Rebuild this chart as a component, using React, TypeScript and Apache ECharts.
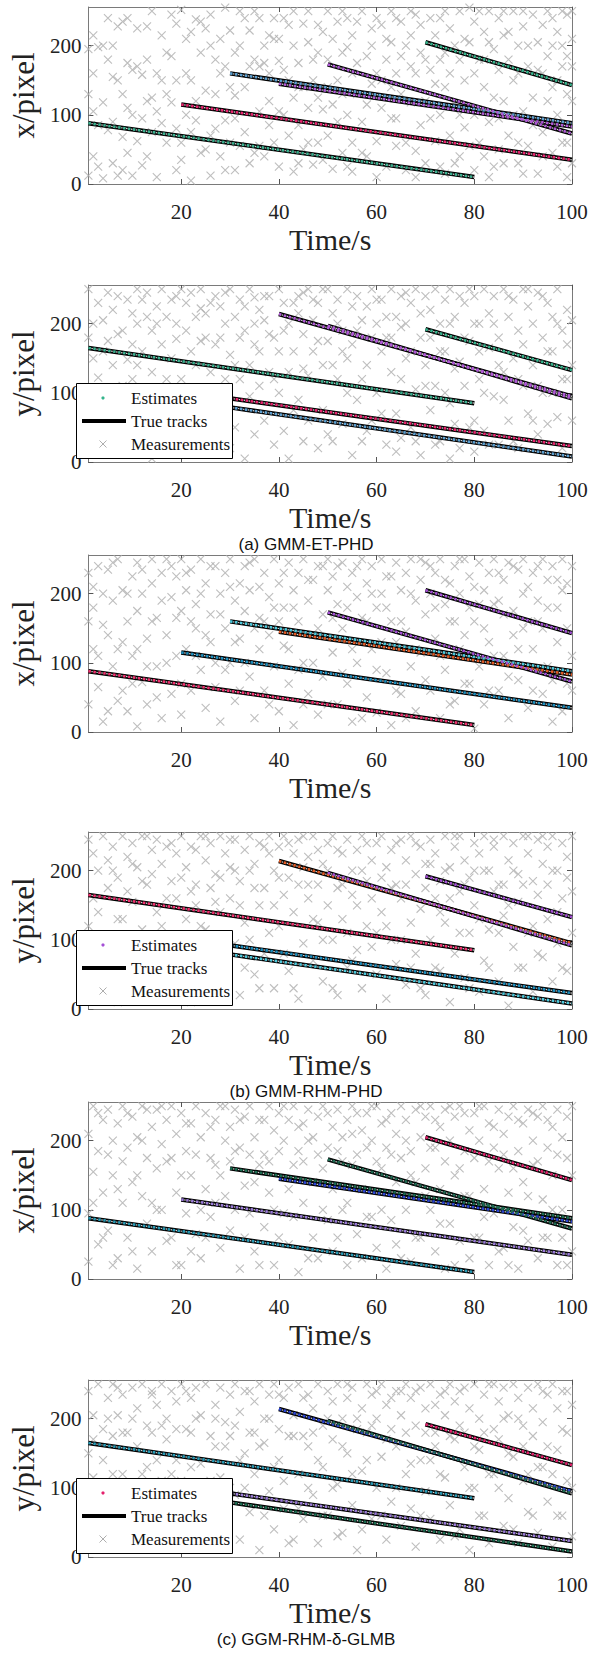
import { useEffect, useRef } from "react";
import * as echarts from "echarts";

const SERIF = '"Liberation Serif", "Times New Roman", serif';
const SANS = '"Liberation Sans", Arial, sans-serif';

const timeTicks = [20, 40, 60, 80, 100];
const pixelTicks = [0, 100, 200];

// True tracks, one row per target: [birth time, value at birth, death time, value at death]
const tracksX = [
  [1, 88, 80, 10],
  [20, 115, 100, 35],
  [30, 160, 100, 88],
  [40, 145, 100, 83],
  [50, 173, 100, 73],
  [70, 205, 100, 143],
];
const tracksY = [
  [1, 165, 80, 85],
  [20, 102, 100, 23],
  [30, 79, 100, 8],
  [40, 214, 100, 95],
  [50, 197, 100, 92],
  [70, 192, 100, 133],
];

// Estimate colours per target, one list per filter
const estColorsA = ["#3bb08f", "#e8246e", "#5b9fd0", "#b05ad6", "#b05ad6", "#35b48c"];
const estColorsB = ["#f0306e", "#1c8fbf", "#4cc9dc", "#e25a24", "#a44fd6", "#a44fd6"];
const estColorsC = ["#279ab5", "#9a7ad8", "#1a6b4f", "#2b45d4", "#1f6a52", "#e4206c"];
const legendDotColors = ["#35b48c", "#a44fd6", "#e4206c"];

const captions = ["(a) GMM-ET-PHD", "(b) GMM-RHM-PHD", "(c) GGM-RHM-δ-GLMB"];

// Clutter measurements, flattened [time, value, time, value, ...]
const clutterXa = [1,195,1,130,1,12,2,215,2,105,2,40,3,198,3,25,4,200,4,118,4,8,5,240,5,78,6,200,6,155,6,30,7,228,7,12,8,235,8,130,8,68,9,240,9,175,9,45,10,165,10,100,10,12,11,170,11,62,12,158,12,27,13,228,13,120,13,40,14,125,14,75,15,160,15,105,15,10,16,150,16,88,17,190,17,60,18,245,18,185,18,118,19,232,19,80,20,252,20,60,20,35,21,210,21,100,22,220,22,150,22,5,23,238,23,92,24,235,24,190,24,45,25,225,25,135,26,200,26,70,26,12,27,180,27,80,28,160,28,40,29,255,29,170,29,92,30,222,30,60,31,190,31,128,31,20,32,200,32,55,33,240,33,140,34,222,34,30,35,250,35,180,35,45,36,170,36,105,37,175,37,40,38,215,38,160,38,120,39,210,39,60,40,178,40,105,40,25,41,240,41,165,42,150,42,70,43,250,43,200,43,18,44,175,44,85,45,232,45,140,45,50,46,205,46,110,47,180,47,28,48,230,48,125,48,60,49,220,49,108,50,250,50,180,50,70,51,115,51,22,52,235,52,150,53,190,53,45,54,240,54,198,54,100,55,215,55,60,55,18,56,175,56,130,57,250,57,90,58,185,58,40,59,225,59,145,60,160,60,62,60,10,61,230,61,110,62,180,62,25,63,250,63,205,63,95,64,160,64,55,65,235,65,130,66,200,66,20,67,215,67,118,68,245,68,160,68,48,69,190,69,85,70,120,70,30,71,240,71,165,72,215,72,62,73,180,73,100,74,250,74,140,74,15,75,225,75,70,76,200,76,115,77,250,77,180,77,40,78,150,78,82,79,255,79,205,80,235,80,100,80,20,81,180,81,60,82,220,82,140,83,250,83,90,83,10,84,195,84,25,85,240,85,165,85,50,86,215,86,120,87,180,87,70,88,250,88,150,89,200,89,30,90,228,90,105,91,170,91,55,92,245,92,125,93,205,93,15,94,230,94,160,94,75,95,250,95,185,96,140,96,45,97,220,97,100,98,200,98,60,99,245,99,185,99,10,100,210,100,120,100,30,
  2,160,3,85,5,180,6,90,7,150,8,20,9,110,11,225,12,95,13,180,14,250,16,215,17,130,19,150,19,20,21,160,22,75,23,120,25,50,26,245,27,130,28,210,29,20,30,140,31,95,32,250,33,75,34,170,36,240,36,55,37,200,38,85,39,240,40,210,41,100,42,230,43,125,44,140,44,30,46,250,46,60,47,150,48,190,49,35,50,140,51,210,52,90,53,130,53,250,54,25,55,160,56,235,57,45,58,115,59,200,60,240,61,150,62,210,63,140,64,240,64,95,65,185,66,60,67,250,67,170,68,10,69,230,70,180,71,95,72,145,73,240,73,25,74,190,75,160,76,30,77,100,78,210,79,55,80,160,81,250,82,180,82,40,83,205,84,125,85,95,86,250,86,30,87,220,88,100,89,160,89,60,90,250,90,15,91,200,92,85,93,165,94,40,95,120,96,240,96,200,97,150,97,25,98,250,98,170,99,130,99,60,100,170,100,250];
const clutterYa = [1,250,1,180,1,100,2,150,2,60,3,230,3,122,4,205,4,30,5,245,5,175,5,70,6,220,6,140,7,240,7,95,8,190,8,20,9,235,9,148,10,215,10,120,11,250,11,200,11,55,12,160,12,85,13,245,13,210,14,190,14,130,14,5,15,225,15,105,16,250,16,170,17,210,17,48,18,235,18,150,19,200,19,178,20,250,20,120,21,230,21,190,22,245,22,60,23,210,23,140,24,250,24,222,25,180,25,40,26,230,26,130,27,240,27,170,28,225,28,20,29,200,29,120,30,250,30,155,31,210,31,50,32,235,32,180,33,190,33,5,34,250,34,140,35,238,35,200,35,40,36,220,36,160,37,205,37,60,38,240,38,130,39,180,39,25,40,250,40,100,41,230,41,45,42,200,42,5,43,160,43,75,44,240,44,215,45,185,45,135,45,30,46,250,46,60,47,205,47,160,48,230,48,20,49,140,49,75,50,250,50,175,51,215,51,30,52,235,52,120,53,190,53,55,54,250,54,150,55,170,55,10,56,240,56,90,57,205,57,30,58,225,58,140,59,250,59,60,60,200,60,100,61,235,61,160,62,180,62,25,63,250,63,130,64,210,64,70,65,240,65,120,65,35,66,200,66,150,67,230,67,50,68,250,68,105,69,180,69,10,70,240,70,140,71,220,71,75,72,250,72,110,73,200,73,30,74,235,74,160,75,250,75,85,75,5,76,210,76,55,77,240,77,145,78,230,78,110,79,250,79,175,80,15,80,60,80,240,81,200,81,120,82,250,82,45,83,215,83,165,84,240,84,95,85,180,85,25,86,250,86,130,87,210,87,60,88,235,88,150,89,190,89,20,90,250,90,110,91,225,91,70,92,200,92,140,93,245,93,40,94,180,94,100,95,230,95,55,96,210,96,160,97,250,97,65,98,190,98,20,99,220,99,120,100,205,100,60,
  2,200,3,90,4,160,6,45,7,185,8,110,9,80,10,170,11,140,12,235,13,40,15,200,16,75,17,120,18,20,19,240,20,75,21,45,22,160,23,100,24,175,25,215,26,60,27,105,28,180,29,245,30,20,31,140,32,120,33,225,34,95,35,170,36,110,37,240,38,185,39,120,40,160,41,190,42,130,43,230,44,90,45,245,46,125,47,235,48,175,49,250,50,40,51,140,52,200,53,160,54,100,55,225,56,190,57,120,58,45,59,180,60,235,61,70,62,210,63,180,64,15,65,195,66,245,67,160,68,30,69,215,70,110,71,180,72,25,73,160,74,100,75,200,76,135,77,20,78,180,79,50,80,200,81,160,82,100,83,25,84,200,85,140,86,90,87,240,88,30,89,120,90,170,91,250,92,60,93,110,94,240,95,160,96,100,97,200,98,120,99,170,100,140];
const clutterXb = [1,230,1,160,1,40,2,210,2,120,3,240,3,65,4,155,4,15,5,235,5,140,6,190,6,95,7,250,7,45,8,205,8,130,9,160,9,30,10,225,10,110,11,245,11,175,11,8,12,200,12,72,13,135,13,40,14,250,14,215,15,165,15,95,16,230,16,20,17,250,17,140,18,195,18,55,19,225,19,110,20,250,20,175,20,25,21,205,21,120,22,235,22,60,23,185,23,150,24,250,24,90,25,215,25,35,26,170,26,130,27,240,27,65,28,200,28,15,29,230,29,150,30,250,30,100,31,190,31,45,32,215,32,135,33,240,33,175,34,205,34,80,35,250,35,20,36,165,36,120,37,230,37,60,38,195,38,140,39,250,39,95,40,215,40,30,41,180,41,125,42,245,42,70,43,205,43,10,44,230,44,160,45,250,45,100,46,190,46,55,47,220,47,140,48,240,48,25,49,170,49,80,50,250,50,205,51,225,51,115,52,185,52,40,53,245,53,150,54,210,54,70,55,230,55,15,56,195,56,100,57,250,57,165,58,215,58,50,59,240,59,120,60,180,60,28,61,250,61,200,62,225,62,85,63,160,63,10,64,245,64,130,65,205,65,55,66,230,66,145,67,250,67,95,68,190,68,30,69,220,69,115,70,245,70,170,71,200,71,60,72,230,72,135,73,250,73,20,74,185,74,90,75,215,75,160,76,240,76,45,77,200,77,120,78,250,78,70,79,225,79,180,80,160,80,5,81,245,81,95,82,205,82,40,83,230,83,130,84,250,84,185,85,190,85,60,86,220,86,110,87,245,87,20,88,175,88,140,89,235,89,75,90,250,90,200,91,210,91,35,92,230,92,120,93,190,93,160,94,250,94,55,95,220,95,95,96,240,96,15,97,180,97,130,98,250,98,205,99,215,99,70,100,240,100,110,
  2,180,3,110,4,200,5,30,6,245,7,120,8,60,9,200,10,70,11,120,12,235,13,95,14,160,15,50,16,190,17,100,18,240,19,165,20,70,21,230,22,160,23,110,24,200,25,140,26,240,27,100,28,170,29,90,30,210,31,130,32,60,33,100,34,245,35,150,36,210,37,160,38,40,39,180,40,160,41,230,42,120,43,180,44,90,45,40,46,220,47,100,48,150,49,240,50,40,51,165,52,240,53,85,54,180,55,120,56,240,57,20,58,160,59,200,60,90,61,130,62,180,63,225,64,60,65,160,66,20,67,200,68,120,69,250,70,75,71,240,72,180,73,110,74,220,75,40,76,160,77,250,78,140,79,70,80,210,81,185,82,150,83,60,84,110,85,230,86,170,87,80,88,240,89,120,90,150,91,160,92,60,93,240,94,150,95,180,96,75,97,220,98,30,99,150,100,60];
const clutterYb = [1,245,1,120,1,20,2,225,2,80,3,200,3,140,4,250,4,45,5,215,5,175,6,235,6,100,7,190,7,10,8,250,8,130,9,220,9,60,10,240,10,155,11,205,11,35,12,250,12,115,13,180,13,75,14,230,14,195,15,245,15,140,16,210,16,25,17,160,17,90,18,240,18,185,19,225,19,50,20,250,20,190,21,205,21,130,22,235,22,10,23,180,23,150,24,250,24,70,25,215,25,115,26,240,26,175,27,195,27,35,28,250,28,140,29,225,29,60,30,205,30,160,31,245,31,95,32,185,32,20,33,230,33,125,34,250,34,200,35,210,35,50,36,240,36,150,37,175,37,80,38,250,38,225,39,200,39,30,40,235,40,120,41,250,41,165,42,190,42,55,43,225,43,140,44,245,44,15,45,205,45,95,46,180,46,160,47,250,47,70,48,230,48,125,49,210,49,40,50,240,50,150,51,250,51,100,52,175,52,20,53,225,53,130,54,245,54,60,55,200,55,165,56,230,56,85,57,250,57,30,58,185,58,120,59,215,59,160,60,240,60,50,61,250,61,140,62,205,62,15,63,230,63,100,64,180,64,65,65,245,65,160,66,215,66,35,67,250,67,125,68,195,68,80,69,235,69,145,70,210,70,20,71,245,71,100,72,225,72,160,73,185,73,55,74,250,74,125,75,205,75,10,76,235,76,80,77,250,77,170,78,215,78,45,79,190,79,110,80,240,80,150,81,225,81,25,82,250,82,70,83,200,83,115,84,235,84,170,85,180,85,40,86,250,86,135,87,215,87,5,88,240,88,90,89,195,89,155,90,250,90,60,91,225,91,110,92,185,92,25,93,245,93,165,94,210,94,75,95,235,95,130,96,250,96,40,97,200,97,95,98,240,98,160,99,220,99,55,100,250,100,110,
  2,160,3,60,4,100,5,30,6,200,7,130,8,80,9,170,10,210,11,100,12,185,13,250,14,60,15,20,16,120,17,235,18,80,19,160,20,40,21,90,22,170,23,230,24,120,25,250,26,80,27,155,28,190,29,100,30,245,31,200,32,150,33,60,34,100,35,175,36,30,37,235,38,110,39,150,40,190,41,80,42,240,43,30,44,180,45,250,46,220,47,130,48,180,49,100,50,200,51,30,52,230,53,180,54,110,55,70,56,150,57,200,58,240,59,90,60,110,61,190,62,120,63,175,64,240,65,100,66,180,67,60,68,240,69,30,70,175,71,210,72,60,73,140,74,200,75,160,76,250,77,110,78,180,79,30,80,200,81,130,82,200,83,60,84,245,85,110,86,180,87,150,88,200,89,60,90,180,91,250,92,120,93,80,94,250,95,180,96,200,97,140,98,60,99,190,100,170];
const clutterXc = [1,210,1,95,1,25,2,250,2,155,3,185,3,50,4,230,4,125,5,245,5,70,6,200,6,150,7,225,7,30,8,250,8,110,9,190,9,60,10,235,10,140,11,205,11,15,12,250,12,120,13,175,13,80,14,220,14,40,15,245,15,160,16,195,16,100,17,230,17,55,18,250,18,175,19,210,19,125,20,240,20,20,21,185,21,95,22,225,22,150,23,250,23,65,24,205,24,30,25,240,25,130,26,175,26,90,27,230,27,165,28,250,28,45,29,200,29,120,30,220,30,70,31,245,31,185,32,190,32,15,33,235,33,135,34,250,34,95,35,205,35,40,36,230,36,165,37,180,37,75,38,250,38,125,39,215,39,20,40,240,40,185,41,200,41,95,42,230,42,50,43,250,43,165,44,185,44,10,45,225,45,110,46,245,46,200,47,205,47,60,48,235,48,30,49,250,49,160,50,190,50,85,51,220,51,40,52,245,52,185,53,205,53,100,54,230,54,20,55,250,55,165,56,180,56,65,57,215,57,30,58,240,58,190,59,200,59,90,60,250,60,45,61,225,61,160,62,190,62,15,63,240,63,85,64,210,64,50,65,250,65,175,66,230,66,100,67,185,67,25,68,245,68,140,69,205,69,60,70,235,70,160,71,250,71,100,72,190,72,40,73,220,73,130,74,245,74,15,75,200,75,80,76,235,76,150,77,250,77,55,78,185,78,120,79,215,79,30,80,240,80,175,81,200,81,60,82,250,82,130,83,225,83,20,84,190,84,95,85,245,85,160,86,210,86,45,87,235,87,125,88,250,88,75,89,185,89,15,90,225,90,140,91,245,91,55,92,200,92,165,93,235,93,30,94,250,94,115,95,190,95,60,96,220,96,150,97,245,97,20,98,205,98,100,99,235,99,175,100,250,100,40,
  2,110,3,240,4,60,5,180,6,20,7,130,8,170,9,240,10,40,11,150,12,200,13,245,14,110,15,100,16,250,17,170,18,60,19,20,20,150,21,225,22,40,23,180,24,100,25,60,26,220,27,110,28,150,29,250,30,170,31,100,32,230,33,60,34,180,35,140,36,20,37,230,38,170,39,100,40,60,41,250,42,130,43,90,44,220,45,170,46,30,47,140,48,180,49,100,50,240,51,130,52,60,53,170,54,110,55,210,56,240,57,130,58,90,59,250,60,170,61,100,62,230,63,180,64,140,65,30,66,200,67,150,68,60,69,250,70,120,71,190,72,230,73,80,74,170,75,250,76,20,77,160,78,240,79,120,80,60,81,250,82,90,83,170,84,220,85,40,86,180,87,20,88,160,89,230,90,70,91,120,92,240,93,170,94,60,95,230,96,100,97,180,98,60,99,20,100,150];
const clutterYc = [1,240,1,150,1,60,2,205,2,115,3,250,3,30,4,185,4,140,5,230,5,80,6,250,6,175,7,205,7,45,8,235,8,120,9,180,9,15,10,245,10,95,11,215,11,160,12,250,12,55,13,190,13,130,14,240,14,235,15,220,15,30,16,250,16,110,17,200,17,170,18,240,18,65,19,225,19,140,20,250,20,15,21,185,21,95,22,230,22,180,23,245,23,50,24,205,24,135,25,250,25,80,26,175,26,20,27,220,27,160,28,245,28,115,29,195,29,45,30,235,30,175,31,250,31,90,32,210,32,25,33,240,33,150,34,180,34,65,35,225,35,120,36,250,36,10,37,200,37,165,38,235,38,95,39,250,39,40,40,185,40,140,41,230,41,70,42,245,42,175,43,205,43,25,44,250,44,120,45,175,45,55,46,235,46,160,47,215,47,90,48,250,48,20,49,190,49,130,50,240,50,60,51,225,51,170,52,250,52,105,53,200,53,35,54,230,54,150,55,245,55,75,56,185,56,10,57,215,57,125,58,250,58,180,59,235,59,55,60,200,60,100,61,250,61,145,62,220,62,25,63,185,63,80,64,240,64,160,65,205,65,45,66,250,66,120,67,230,67,70,68,190,68,15,69,245,69,140,70,215,70,95,71,250,71,55,72,180,72,160,73,235,73,25,74,205,74,115,75,250,75,75,76,225,76,170,77,190,77,40,78,245,78,130,79,215,79,10,80,250,80,100,81,200,81,155,82,235,82,60,83,250,83,20,84,185,84,120,85,225,85,170,86,245,86,45,87,205,87,85,88,250,88,145,89,230,89,20,90,190,90,110,91,245,91,65,92,215,92,175,93,250,93,35,94,195,94,130,95,235,95,80,96,250,96,15,97,215,97,155,98,185,98,60,99,240,99,110,100,220,100,30,
  2,170,3,100,4,60,5,200,6,120,7,245,8,180,9,90,10,200,11,30,12,120,13,70,14,180,15,140,16,190,17,90,18,120,19,185,20,110,21,240,22,130,23,200,24,90,25,30,26,110,27,200,28,60,29,160,30,100,31,190,32,140,33,100,34,240,35,180,36,160,37,60,38,200,39,130,40,235,41,110,42,20,43,175,44,70,45,230,46,100,47,180,48,140,49,60,50,200,51,100,52,30,53,160,54,250,55,120,56,200,57,40,58,140,59,190,60,240,61,60,62,170,63,230,64,100,65,240,66,180,67,135,68,240,69,60,70,180,71,140,72,220,73,120,74,240,75,175,76,30,77,240,78,180,79,100,80,160,81,60,82,180,83,120,84,250,85,100,86,200,87,150,88,40,89,200,90,160,91,120,92,60,93,130,94,240,95,160,96,120,97,60,98,240,99,180,100,100];

const panels = [
  { axis: "x", tracks: tracksX, clutter: clutterXa, colors: estColorsA, group: 0 },
  { axis: "y", tracks: tracksY, clutter: clutterYa, colors: estColorsA, group: 0 },
  { axis: "x", tracks: tracksX, clutter: clutterXb, colors: estColorsB, group: 1 },
  { axis: "y", tracks: tracksY, clutter: clutterYb, colors: estColorsB, group: 1 },
  { axis: "x", tracks: tracksX, clutter: clutterXc, colors: estColorsC, group: 2 },
  { axis: "y", tracks: tracksY, clutter: clutterYc, colors: estColorsC, group: 2 },
];

const PANEL_TOPS = [7, 285, 555, 832, 1102, 1380];
const PLOT_LEFT = 76;
const PLOT_W = 496;
const PLOT_H = 177;
const CROSS = "path://M0,0L10,10M10,0L0,10";
const CLUTTER_GREY = "#aeaeae";

function pairs(flat: number[]) {
  const out: number[][] = [];
  for (let i = 0; i < flat.length; i += 2) out.push([flat[i], flat[i + 1]]);
  return out;
}

function buildOption() {
  const grid: any[] = [];
  const xAxis: any[] = [];
  const yAxis: any[] = [];
  const series: any[] = [];
  const graphic: any[] = [];
  const frame = { show: true, onZero: false, lineStyle: { color: "#7a7a7a", width: 1 } };
  const tick = (vals: number[]) => ({
    inside: true,
    length: 5,
    customValues: vals,
    lineStyle: { color: "#555", width: 1 },
  });
  const tickText = { fontFamily: SERIF, fontSize: 21, color: "#222" };

  panels.forEach((p, i) => {
    const top = PANEL_TOPS[i];
    grid.push({ left: PLOT_LEFT, top, width: PLOT_W, height: PLOT_H, containLabel: false });
    // Time axis: nice ticks at multiples of 20; the label at the axis minimum is hidden
    xAxis.push({
      type: "value", gridIndex: i, min: 1, max: 100, splitNumber: 5, position: "bottom",
      name: "Time/s", nameLocation: "middle", nameGap: 40,
      nameTextStyle: { fontFamily: SERIF, fontSize: 30, color: "#222" },
      axisLine: frame, axisTick: tick(timeTicks),
      axisLabel: { showMinLabel: false, showMaxLabel: true, margin: 17, ...tickText },
      splitLine: { show: false },
    });
    xAxis.push({
      type: "value", gridIndex: i, min: 1, max: 100, position: "top",
      axisLine: frame, axisTick: tick(timeTicks), axisLabel: { show: false }, splitLine: { show: false },
    });
    // Pixel axis: nice ticks at multiples of 100; the label at the image height is hidden
    yAxis.push({
      type: "value", gridIndex: i, min: 0, max: 256, splitNumber: 3, position: "left",
      name: p.axis + "/pixel", nameLocation: "middle", nameGap: 49,
      nameTextStyle: { fontFamily: SERIF, fontSize: 31, color: "#222" },
      axisLine: frame, axisTick: tick(pixelTicks),
      axisLabel: { showMinLabel: true, showMaxLabel: false, margin: 7, ...tickText },
      splitLine: { show: false },
    });
    yAxis.push({
      type: "value", gridIndex: i, min: 0, max: 256, position: "right",
      axisLine: frame, axisTick: tick(pixelTicks), axisLabel: { show: false }, splitLine: { show: false },
    });
    const xi = 2 * i;
    const yi = 2 * i;

    series.push({
      type: "scatter", name: "Measurements", xAxisIndex: xi, yAxisIndex: yi,
      data: pairs(p.clutter), symbol: CROSS, symbolSize: 8, z: 1,
      itemStyle: { color: "rgba(0,0,0,0)", borderColor: CLUTTER_GREY, borderWidth: 1.1 },
      silent: true,
    });
    p.tracks.forEach((t, k) => {
      const line = [[t[0], t[1]], [t[2], t[3]]];
      series.push({
        type: "line", name: "True tracks", xAxisIndex: xi, yAxisIndex: yi, data: line,
        showSymbol: false, z: 2, silent: true,
        lineStyle: { color: "#000", width: 4.5 },
      });
      series.push({
        type: "line", name: "Measurements", xAxisIndex: xi, yAxisIndex: yi, data: line,
        showSymbol: false, z: 3, silent: true,
        lineStyle: { color: "#d4d4d4", width: 1.2, type: [1.5, 3.5], dashOffset: 2 },
      });
      series.push({
        type: "line", name: "Estimates", xAxisIndex: xi, yAxisIndex: yi, data: line,
        showSymbol: false, z: 4, silent: true,
        lineStyle: { color: p.colors[k], width: 2.6, type: [2.5, 2.5] },
      });
    });

    if (p.axis === "y") {
      const bottom = top + PLOT_H;
      const bx = PLOT_LEFT;
      const by = bottom - 79;
      const rowY = [by + 15, by + 38, by + 61];
      graphic.push({
        type: "rect", z: 100,
        shape: { x: bx + 0.5, y: by + 0.5, width: 156, height: 75 },
        style: { fill: "#fff", stroke: "#000", lineWidth: 1 },
      });
      graphic.push({
        type: "circle", z: 101,
        shape: { cx: bx + 27, cy: rowY[0], r: 1.6 },
        style: { fill: legendDotColors[p.group] },
      });
      graphic.push({
        type: "line", z: 101,
        shape: { x1: bx + 6, y1: rowY[1], x2: bx + 50, y2: rowY[1] },
        style: { stroke: "#000", lineWidth: 4 },
      });
      graphic.push({
        type: "line", z: 101,
        shape: { x1: bx + 23.5, y1: rowY[2] - 3.5, x2: bx + 30.5, y2: rowY[2] + 3.5 },
        style: { stroke: CLUTTER_GREY, lineWidth: 1 },
      });
      graphic.push({
        type: "line", z: 101,
        shape: { x1: bx + 30.5, y1: rowY[2] - 3.5, x2: bx + 23.5, y2: rowY[2] + 3.5 },
        style: { stroke: CLUTTER_GREY, lineWidth: 1 },
      });
      ["Estimates", "True tracks", "Measurements"].forEach((label, r) => {
        graphic.push({
          type: "text", z: 101, x: bx + 55, y: rowY[r],
          style: { text: label, fontFamily: SERIF, fontSize: 17, fill: "#111", verticalAlign: "middle", align: "left" },
        });
      });
      graphic.push({
        type: "text", z: 101, x: 306, y: bottom + 82,
        style: { text: captions[p.group], fontFamily: SANS, fontSize: 17, fill: "#111", align: "center", verticalAlign: "middle" },
      });
    }
  });

  return {
    animation: false,
    backgroundColor: "#fff",
    textStyle: { fontFamily: SERIF, fontSize: 21, color: "#222" },
    grid, xAxis, yAxis, series, graphic,
  };
}

export default function App() {
  const ref = useRef<HTMLDivElement>(null);
  useEffect(() => {
    document.body.style.margin = "0";
    const chart = echarts.init(ref.current!, null, { renderer: "svg" });
    chart.setOption(buildOption());
    return () => chart.dispose();
  }, []);
  return <div ref={ref} style={{ width: 591, height: 1654 }} />;
}
